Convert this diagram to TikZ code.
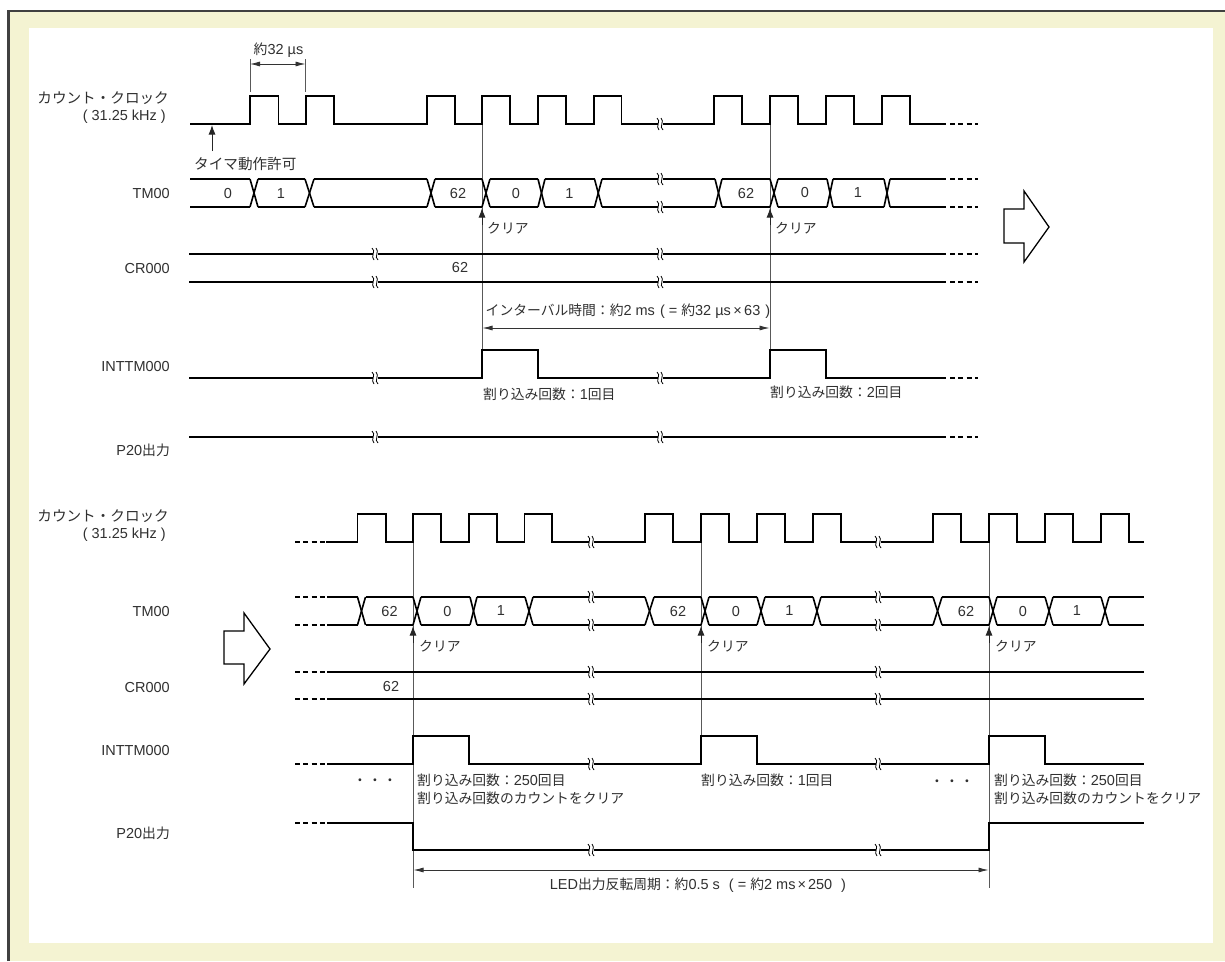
\documentclass[tikz,border=0pt]{standalone}
\usepackage{fontspec}
\setmainfont{Liberation Sans}
\newfontfamily\jpf{Noto Sans CJK JP}
\usetikzlibrary{arrows.meta}
\newcommand{\J}[1]{{\jpf\fontsize{13.8}{15}\selectfont #1}}
\newcommand{\JL}[1]{{\jpf\fontsize{14.6}{15}\selectfont #1}}
\definecolor{cream}{HTML}{F4F3D2}
\definecolor{ink}{HTML}{303030}
\newcommand{\brk}[2]{%
  \fill[white] (#1-2.5,#2-1.5) rectangle (#1+2.5,#2+1.5);
  \draw[wave,line width=0.8pt] (#1-3,#2-6) .. controls (#1+1.5,#2-3) and (#1-5,#2+2.5) .. (#1-1,#2+6);
  \draw[wave,line width=0.8pt] (#1+1,#2-6) .. controls (#1+5,#2-2.5) and (#1-1.5,#2+3) .. (#1+3,#2+6);
}
\newcommand{\dashes}[3]{\draw[dashline] (#1,#3) -- (#2,#3);}
\newcommand{\buslines}[3]{%
  \foreach \a/\b in {#3} {
    \draw[wave] (\a,#1) -- (\b,#1);
    \draw[wave] (\a,#2) -- (\b,#2);
  }
}
\newcommand{\buscross}[3]{%
  \foreach \a/\b in {#3} {
    \draw[wave] (\a,#1) -- (\b,#2);
    \draw[wave] (\a,#2) -- (\b,#1);
  }
}
\tikzset{
  wave/.style={draw=black,line width=1.6pt,line join=miter},
  dashline/.style={draw=black,line width=1.6pt,dash pattern=on 5pt off 3.3pt},
  thin line/.style={draw=black!65,line width=1pt},
  dim/.style={draw=black!80,line width=0.8pt,{Latex[length=10pt,width=5pt]}-{Latex[length=10pt,width=5pt]}},
  upar/.style={draw=black!85,line width=1pt,-{Latex[length=9.5pt,width=7pt]}},
  bigarrow/.style={draw=black,line width=1.3pt,fill=white,line join=miter},
  lab/.style={inner sep=0pt,anchor=west,text=ink,font=\fontsize{14.5}{15}\selectfont},
  rlab/.style={inner sep=0pt,anchor=east,text=ink,font=\fontsize{14.5}{15}\selectfont},
  clab/.style={inner sep=0pt,anchor=center,text=ink,font=\fontsize{14.5}{15}\selectfont},
}
\begin{document}
\begin{tikzpicture}[x=1pt,y=-1pt]
\useasboundingbox (0,0) rectangle (1225,961);
\fill[white] (0,0) rectangle (1225,961);
\fill[cream] (8,11) rectangle (1225,961);
\fill[white] (29,28) rectangle (1212.5,943);
\draw[draw=black!75,line width=2.4pt] (8.5,961) -- (8.5,11) -- (1225,11);

% ---------- upper diagram: vertical guides
\coordinate (v1t) at (482,124); \coordinate (v1b) at (482,378);
\coordinate (v2t) at (770,124); \coordinate (v2b) at (770,378);
\draw[thin line] (v1t) -- (v1b);
\draw[thin line] (v2t) -- (v2b);

% clock
\draw[wave] (190,124) -- (250,124) -- (250,96) -- (278.5,96) -- (278.5,124) -- (306,124) -- (306,96) -- (334,96) -- (334,124)
  -- (427,124) -- (427,96) -- (455,96) -- (455,124) -- (482,124) -- (482,96) -- (510,96) -- (510,124)
  -- (538,124) -- (538,96) -- (566,96) -- (566,124) -- (594,124) -- (594,96) -- (621.5,96) -- (621.5,124) -- (714,124)
  -- (714,96) -- (742,96) -- (742,124) -- (770,124) -- (770,96) -- (798,96) -- (798,124) -- (826,124) -- (826,96) -- (854,96) -- (854,124)
  -- (882,124) -- (882,96) -- (910,96) -- (910,124) -- (946,124);
\dashes{950}{978}{124}
\brk{660}{124}

% TM00
\buslines{179}{207}{190/250,258/305,314/427,435/482,490/538,545/594.5,602/715,722/770,778/827,833/884,890/946}
\buscross{179}{207}{250/258,305/314,427/435,482/490,538/545,594.5/602,715/722,770/778,827/833,884/890}
\dashes{950}{978}{179}\dashes{950}{978}{207}
\brk{660}{179}\brk{660}{207}

% CR000
\draw[wave] (189,254) -- (946,254);
\draw[wave] (189,282) -- (946,282);
\dashes{950}{978}{254}\dashes{950}{978}{282}
\brk{375}{254}\brk{375}{282}\brk{660}{254}\brk{660}{282}

% INTTM000
\draw[wave] (189,378) -- (482,378) -- (482,350) -- (538,350) -- (538,378) -- (770,378) -- (770,350) -- (826,350) -- (826,378) -- (946,378);
\dashes{950}{978}{378}
\brk{375}{378}\brk{660}{378}

% P20
\draw[wave] (189,437) -- (946,437);
\dashes{950}{978}{437}
\brk{375}{437}\brk{660}{437}

% big arrow upper
\draw[bigarrow] (1004,209) -- (1024,209) -- (1024,191) -- (1049,227) -- (1024,262) -- (1024,243) -- (1004,243) -- cycle;

% 32 us dimension
\coordinate (e1t) at (250,59); \coordinate (e1b) at (250,92);
\coordinate (e2t) at (305.5,59); \coordinate (e2b) at (305.5,92);
\coordinate (e1m) at (250,64); \coordinate (e2m) at (305.5,64);
\draw[thin line] (e1t) -- (e1b);
\draw[thin line] (e2t) -- (e2b);
\draw[dim] (e1m) -- (e2m);
\node[clab] (us) at (278.5,50) {\J{約}32 µs};

% timer arrow
\coordinate (ts) at (212,151); \coordinate (te) at (212,125);
\draw[upar] (ts) -- (te);
\node[lab] (timer) at (194,164) {\JL{タイマ動作許可}};

% clear arrows upper
\coordinate (c1s) at (482,225); \coordinate (c1e) at (482,208);
\coordinate (c2s) at (770,225); \coordinate (c2e) at (770,208);
\draw[upar] (c1s) -- (c1e);
\draw[upar] (c2s) -- (c2e);
\node[lab] (cl1) at (487,228) {\J{クリア}};
\node[lab] (cl2) at (775,228) {\J{クリア}};

% interval
\coordinate (i1) at (482.5,328); \coordinate (i2) at (769.5,328);
\draw[dim] (i1) -- (i2);
\node[lab] (intv) at (485.5,311) {\J{インターバル時間：約}2 ms\hspace{1pt} ( = \J{約}32 µs\,×\,63\hspace{1pt} )};

% upper labels
\node[rlab] (l1) at (169,98) {\JL{カウント・クロック}};
\node[rlab] (l2) at (166,117) {( 31.25 kHz )};
\node[rlab] (l3) at (170,194) {TM00};
\node[rlab] (l4) at (170,269) {CR000};
\node[rlab] (l5) at (170,367) {INTTM000};
\node[rlab] (l6) at (170,450) {P20\J{出力}};
\node[clab] (v0) at (228,194) {0};
\node[clab] (v1) at (281,194) {1};
\node[clab] (v2) at (458,194) {62};
\node[clab] (v3) at (516,194) {0};
\node[clab] (v4) at (569.5,194) {1};
\node[clab] (v5) at (746,194) {62};
\node[clab] (v6) at (805,193) {0};
\node[clab] (v7) at (858,193) {1};
\node[clab] (v8) at (460,268) {62};
\node[lab] (n1) at (483,394) {\J{割り込み回数：}1\J{回目}};
\node[lab] (n2) at (770,392) {\J{割り込み回数：}2\J{回目}};

% ---------- lower diagram
\coordinate (w1t) at (413,542); \coordinate (w1b) at (413,888);
\coordinate (w2t) at (701,542); \coordinate (w2b) at (701,764);
\coordinate (w3t) at (989,542); \coordinate (w3b) at (989,888);
\draw[thin line] (w1t) -- (w1b);
\draw[thin line] (w2t) -- (w2b);
\draw[thin line] (w3t) -- (w3b);

% clock
\draw[wave] (326,542) -- (357.5,542) -- (357.5,514) -- (386,514) -- (386,542) -- (413,542) -- (413,514) -- (441,514) -- (441,542)
  -- (469,542) -- (469,514) -- (497,514) -- (497,542) -- (524.5,542) -- (524.5,514) -- (552,514) -- (552,542)
  -- (645,542) -- (645,514) -- (673,514) -- (673,542) -- (701,542) -- (701,514) -- (729,514) -- (729,542)
  -- (757,542) -- (757,514) -- (785,514) -- (785,542) -- (813,542) -- (813,514) -- (841,514) -- (841,542)
  -- (933,542) -- (933,514) -- (961,514) -- (961,542) -- (989,542) -- (989,514) -- (1017,514) -- (1017,542)
  -- (1045,542) -- (1045,514) -- (1073,514) -- (1073,542) -- (1101,542) -- (1101,514) -- (1129,514) -- (1129,542) -- (1144,542);
\dashes{295}{326}{542}
\brk{591}{542}\brk{878}{542}

% TM00
\buslines{597}{625}{327/357.5,365.5/413,421/470,477/525,533/645,654/701,709/757,765/813,821/933,942/989,997/1045,1053/1101,1109/1144}
\buscross{597}{625}{357.5/365.5,413/421,470/477,525/533,645/654,701/709,757/765,813/821,933/942,989/997,1045/1053,1101/1109}
\dashes{295}{326}{597}\dashes{295}{326}{625}
\brk{591}{597}\brk{591}{625}\brk{878}{597}\brk{878}{625}

% CR000
\draw[wave] (327,672) -- (1144,672);
\draw[wave] (327,699) -- (1144,699);
\dashes{295}{326}{672}\dashes{295}{326}{699}
\brk{591}{672}\brk{591}{699}\brk{878}{672}\brk{878}{699}

% INTTM000
\draw[wave] (327,764) -- (413,764) -- (413,736) -- (469,736) -- (469,764) -- (701,764) -- (701,736) -- (757,736) -- (757,764)
  -- (989,764) -- (989,736) -- (1045,736) -- (1045,764) -- (1144,764);
\dashes{295}{326}{764}
\brk{591}{764}\brk{878}{764}

% P20
\draw[wave] (327,823) -- (413,823) -- (413,850) -- (989,850) -- (989,823) -- (1144,823);
\dashes{295}{326}{823}
\brk{591}{850}\brk{878}{850}

% big arrow lower
\draw[bigarrow] (224,631) -- (244,631) -- (244,613) -- (270,649) -- (244,684) -- (244,664) -- (224,664) -- cycle;

% clear arrows lower
\coordinate (d1s) at (413,643); \coordinate (d1e) at (413,626);
\coordinate (d2s) at (701,643); \coordinate (d2e) at (701,626);
\coordinate (d3s) at (989,643); \coordinate (d3e) at (989,626);
\draw[upar] (d1s) -- (d1e);
\draw[upar] (d2s) -- (d2e);
\draw[upar] (d3s) -- (d3e);
\node[lab] (cl3) at (419,646) {\J{クリア}};
\node[lab] (cl4) at (707,646) {\J{クリア}};
\node[lab] (cl5) at (995,646) {\J{クリア}};

% LED period
\coordinate (p1) at (413.5,870); \coordinate (p2) at (988.5,870);
\draw[dim] (p1) -- (p2);
\node[clab] (led) at (698,885) {LED\J{出力反転周期：約}0.5 s\hspace{5pt} ( = \J{約}2 ms\hspace{2pt}×\hspace{2pt}250\hspace{5pt} )};

% lower labels
\node[rlab] (m1) at (169,516) {\JL{カウント・クロック}};
\node[rlab] (m2) at (166,535) {( 31.25 kHz )};
\node[rlab] (m3) at (170,611) {TM00};
\node[rlab] (m4) at (170,687) {CR000};
\node[rlab] (m5) at (170,750) {INTTM000};
\node[rlab] (m6) at (170,833) {P20\J{出力}};
\node[clab] (x0) at (389.5,611) {62};
\node[clab] (x1) at (447.5,611) {0};
\node[clab] (x2) at (501,611) {1};
\node[clab] (x3) at (678,611) {62};
\node[clab] (x4) at (736,611) {0};
\node[clab] (x5) at (789.5,611) {1};
\node[clab] (x6) at (966,611) {62};
\node[clab] (x7) at (1023,611) {0};
\node[clab] (x8) at (1077,611) {1};
\node[clab] (x9) at (391,686) {62};
\node[clab] (dots1) at (375,782) {\J{・}\hspace{1.2pt}\J{・}\hspace{1.2pt}\J{・}};
\node[clab] (dots2) at (952,783) {\J{・}\hspace{1.2pt}\J{・}\hspace{1.2pt}\J{・}};
\node[lab] (q1) at (417,780) {\J{割り込み回数：}250\J{回目}};
\node[lab] (q2) at (417,798) {\J{割り込み回数のカウントをクリア}};
\node[lab] (q3) at (701,780) {\J{割り込み回数：}1\J{回目}};
\node[lab] (q4) at (994,780) {\J{割り込み回数：}250\J{回目}};
\node[lab] (q5) at (994,798) {\J{割り込み回数のカウントをクリア}};
\end{tikzpicture}
\end{document}
